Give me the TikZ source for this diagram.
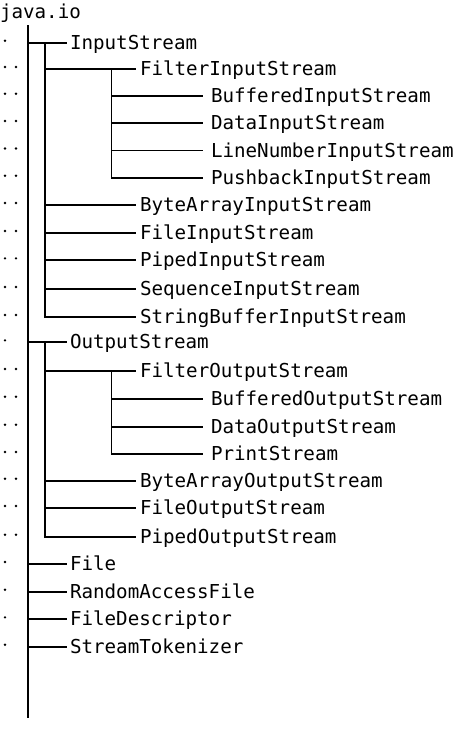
\documentclass[tikz,border=0pt]{standalone}
\usepackage{fontspec}
\newfontfamily\mono{DejaVu Sans Mono}
\begin{document}
\begin{tikzpicture}[x=1pt,y=-1pt,
  ln/.style={line width=1.8pt},
  trunk/.style={line width=1.8pt,line cap=rect},
  lbl/.style={anchor=base west,inner sep=0pt,outer sep=0pt,font=\mono\fontsize{19.2}{20}\selectfont},
  dotm/.style={fill=black,circle,inner sep=0pt,minimum size=2.6pt}]
\useasboundingbox (0,0) rectangle (474,745);
\node[lbl] (javaio) at (0,18.5) {java.io};
\coordinate (t0top) at (28,25);
\coordinate (t0bot) at (28,718);
\draw[ln] (t0top) -- (t0bot);
\foreach \nm/\yy/\tx/\ex/\lx/\nd in {
 InputStream/42.7/28/66.5/70/1,
 FilterInputStream/69/45/135.5/140/2,
 BufferedInputStream/95.7/111.5/202.5/211/2,
 DataInputStream/123/111.5/202.5/211/2,
 LineNumberInputStream/150.5/111.5/202.5/211/2,
 PushbackInputStream/177.7/111.5/202.5/211/2,
 ByteArrayInputStream/205/45/135.5/140/2,
 FileInputStream/233/45/135.5/140/2,
 PipedInputStream/260.3/45/135.5/140/2,
 SequenceInputStream/289/45/135.5/140/2,
 StringBufferInputStream/317/45/135.5/140/2,
 OutputStream/342.3/28/66.5/70/1,
 FilterOutputStream/371/45/135.5/140/2,
 BufferedOutputStream/398.7/111.5/202.5/211/2,
 DataOutputStream/426.7/111.5/202.5/211/2,
 PrintStream/454/111.5/202.5/211/2,
 ByteArrayOutputStream/480.7/45/135.5/140/2,
 FileOutputStream/508/45/135.5/140/2,
 PipedOutputStream/536.7/45/135.5/140/2,
 File/564/28/66.5/70/1,
 RandomAccessFile/591.7/28/66.5/70/1,
 FileDescriptor/619.3/28/66.5/70/1,
 StreamTokenizer/646.7/28/66.5/70/1}
{
 \coordinate (j-\nm) at (\tx,\yy);
 \coordinate (e-\nm) at (\ex,\yy);
 \node[lbl] (\nm) at (\lx,\yy+6.5) {\nm};
 \draw[ln] (j-\nm) -- (e-\nm);
 \node[dotm] (da-\nm) at (5,\yy-2) {};
 \ifnum\nd=2 \node[dotm] (db-\nm) at (16,\yy-2) {};\fi
}
\coordinate (s-InputStream) at (45,42.7);
\coordinate (s-FilterInputStream) at (111.5,69);
\coordinate (s-OutputStream) at (45,342.3);
\coordinate (s-FilterOutputStream) at (111.5,371);
\draw[trunk] (s-InputStream) -- (j-StringBufferInputStream);
\draw[trunk] (s-FilterInputStream) -- (j-PushbackInputStream);
\draw[trunk] (s-OutputStream) -- (j-PipedOutputStream);
\draw[trunk] (s-FilterOutputStream) -- (j-PrintStream);
\end{tikzpicture}
\end{document}
